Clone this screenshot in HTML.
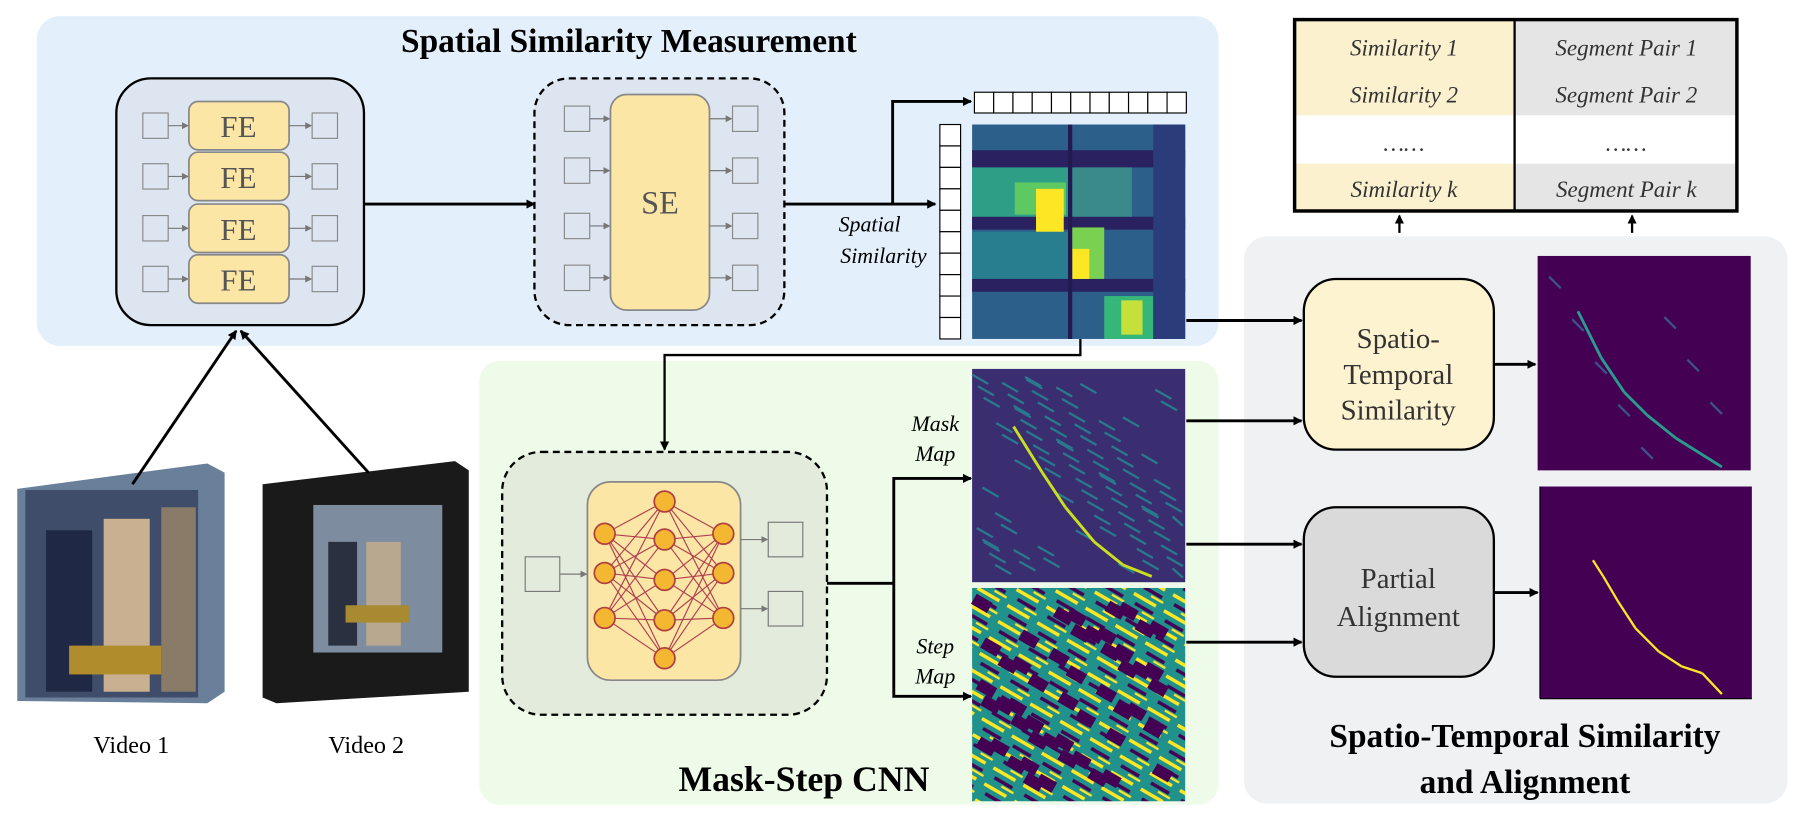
<!DOCTYPE html>
<html><head><meta charset="utf-8"><style>
html,body{margin:0;padding:0;background:#fff;}
svg{display:block;font-family:"Liberation Serif",serif;}
</style></head><body>
<svg id="root" width="1806" height="822" viewBox="0 0 1568 713" preserveAspectRatio="none">
<defs>
<marker id="ah" markerWidth="8" markerHeight="8" refX="7" refY="4" orient="auto" markerUnits="userSpaceOnUse"><path d="M0,0 L8,4 L0,8 z" fill="#000"/></marker>
<marker id="ahs" markerWidth="6" markerHeight="6" refX="5" refY="3" orient="auto" markerUnits="userSpaceOnUse"><path d="M0,0 L6,3 L0,6 z" fill="#777"/></marker>
<pattern id="stepPat" width="30" height="16" patternUnits="userSpaceOnUse" patternTransform="rotate(30)">
<rect width="30" height="16" fill="#21918c"/><rect x="0" y="0" width="22" height="3" fill="#fde725"/><rect x="5" y="7" width="18" height="3" fill="#440154"/><rect x="14" y="11" width="12" height="2" fill="#fde725"/>
</pattern>
</defs>

<rect x="32" y="14" width="1026" height="286" rx="20" fill="#e3f0fb"/>
<text x="546" y="45" text-anchor="middle" font-size="29" font-weight="bold">Spatial Similarity Measurement</text>

<rect x="416" y="313" width="642" height="385" rx="18" fill="#eefbe9"/>
<text x="698" y="686" text-anchor="middle" font-size="31" font-weight="bold">Mask-Step CNN</text>

<rect x="1080" y="205" width="472" height="492" rx="20" fill="#f0f1f3"/>
<text x="1324" y="648" text-anchor="middle" font-size="29" font-weight="bold">Spatio-Temporal Similarity</text>
<text x="1324" y="688" text-anchor="middle" font-size="29" font-weight="bold">and Alignment</text>

<g>
<rect x="101" y="68" width="215" height="214" rx="30" fill="#dde6f0" stroke="#000" stroke-width="2"/>
<g id="fe"></g>
</g>
<line x1="316" y1="177" x2="464" y2="177" stroke="#000" stroke-width="2.5" marker-end="url(#ah)"/>

<g>
<rect x="464" y="68" width="217" height="214" rx="30" fill="#dde6f0" stroke="#000" stroke-width="2" stroke-dasharray="6,4"/>
<rect x="530" y="82" width="86" height="187" rx="14" fill="#fbe6a6" stroke="#888" stroke-width="1.5"/>
<text x="573" y="185" text-anchor="middle" font-size="28" fill="#555">SE</text>
<g id="se"></g>
</g>
<polyline points="681,177 812,177" fill="none" stroke="#000" stroke-width="2.5" marker-end="url(#ah)"/>
<polyline points="775,177 775,88 843,88" fill="none" stroke="#000" stroke-width="2.5" marker-end="url(#ah)"/>
<text x="755" y="201" text-anchor="middle" font-size="19" font-style="italic">Spatial</text>
<text x="767" y="228" text-anchor="middle" font-size="19" font-style="italic">Similarity</text>

<g id="vecs"></g>
<g id="hm1"></g>

<polyline points="938,294 938,308 577,308 577,390" fill="none" stroke="#000" stroke-width="2" marker-end="url(#ah)"/>

<g>
<rect x="436" y="392" width="282" height="228" rx="34" fill="#e3ecdc" stroke="#000" stroke-width="2" stroke-dasharray="6,4"/>
<rect x="510" y="418" width="133" height="172" rx="20" fill="#fbe6a6" stroke="#888" stroke-width="1.5"/>
<g id="nn"></g>
<rect x="456" y="483" width="30" height="30" fill="none" stroke="#777"/>
<line x1="486" y1="498" x2="509" y2="498" stroke="#777" marker-end="url(#ahs)"/>
<rect x="667" y="453" width="30" height="30" fill="none" stroke="#777"/>
<rect x="667" y="513" width="30" height="30" fill="none" stroke="#777"/>
<line x1="643" y1="468" x2="666" y2="468" stroke="#777" marker-end="url(#ahs)"/>
<line x1="643" y1="528" x2="666" y2="528" stroke="#777" marker-end="url(#ahs)"/>
</g>
<polyline points="718,506 776,506" fill="none" stroke="#000" stroke-width="2.5"/>
<polyline points="776,506 776,415 843,415" fill="none" stroke="#000" stroke-width="2.5" marker-end="url(#ah)"/>
<polyline points="776,506 776,604 843,604" fill="none" stroke="#000" stroke-width="2.5" marker-end="url(#ah)"/>
<text x="812" y="374" text-anchor="middle" font-size="19" font-style="italic">Mask</text>
<text x="812" y="400" text-anchor="middle" font-size="19" font-style="italic">Map</text>
<text x="812" y="567" text-anchor="middle" font-size="19" font-style="italic">Step</text>
<text x="812" y="593" text-anchor="middle" font-size="19" font-style="italic">Map</text>

<g id="mask">
<rect x="844" y="320" width="185" height="185" fill="#3a2d70"/>
</g>
<g id="step">
<rect x="844" y="510" width="185" height="185" fill="url(#stepPat)"/>
</g>

<line x1="1030" y1="278" x2="1130" y2="278" stroke="#000" stroke-width="2.5" marker-end="url(#ah)"/>
<line x1="1030" y1="365" x2="1130" y2="365" stroke="#000" stroke-width="2.5" marker-end="url(#ah)"/>
<line x1="1030" y1="472" x2="1130" y2="472" stroke="#000" stroke-width="2.5" marker-end="url(#ah)"/>
<line x1="1030" y1="557" x2="1130" y2="557" stroke="#000" stroke-width="2.5" marker-end="url(#ah)"/>

<g>
<rect x="1132" y="242" width="165" height="148" rx="28" fill="#fdf3d0" stroke="#000" stroke-width="2"/>
<text x="1214" y="302" text-anchor="middle" font-size="25" fill="#333">Spatio-</text>
<text x="1214" y="333" text-anchor="middle" font-size="25" fill="#333">Temporal</text>
<text x="1214" y="364" text-anchor="middle" font-size="25" fill="#333">Similarity</text>
</g>
<g>
<rect x="1132" y="440" width="165" height="147" rx="28" fill="#dadada" stroke="#000" stroke-width="2"/>
<text x="1214" y="510" text-anchor="middle" font-size="25" fill="#333">Partial</text>
<text x="1214" y="543" text-anchor="middle" font-size="25" fill="#333">Alignment</text>
</g>
<line x1="1297" y1="316" x2="1333" y2="316" stroke="#000" stroke-width="2.5" marker-end="url(#ah)"/>
<line x1="1297" y1="514" x2="1335" y2="514" stroke="#000" stroke-width="2.5" marker-end="url(#ah)"/>

<g id="st">
<rect x="1335" y="222" width="185" height="186" fill="#440154"/>
</g>
<g id="pa">
<rect x="1337" y="422" width="184" height="184" fill="#440154"/>
<line x1="1337" y1="422" x2="1337" y2="606" stroke="#000"/>
<line x1="1337" y1="606" x2="1521" y2="606" stroke="#000"/>
</g>

<g>
<rect x="1124" y="17" width="191" height="83" fill="#fbf1cf"/>
<rect x="1124" y="142" width="191" height="41" fill="#fbf1cf"/>
<rect x="1315" y="17" width="193" height="83" fill="#e5e5e5"/>
<rect x="1315" y="142" width="193" height="41" fill="#e5e5e5"/>
<rect x="1124" y="17" width="384" height="166" fill="none" stroke="#000" stroke-width="3"/>
<line x1="1315" y1="17" x2="1315" y2="183" stroke="#000" stroke-width="2"/>
<g font-size="20" font-style="italic" text-anchor="middle" fill="#333">
<text x="1219" y="48">Similarity 1</text><text x="1219" y="89">Similarity 2</text>
<text x="1219" y="131">……</text><text x="1219" y="171">Similarity k</text>
<text x="1412" y="48">Segment Pair 1</text><text x="1412" y="89">Segment Pair 2</text>
<text x="1412" y="131">……</text><text x="1412" y="171">Segment Pair k</text>
</g>
</g>
<line x1="1215" y1="202" x2="1215" y2="187" stroke="#000" stroke-width="2" marker-end="url(#ah)"/>
<line x1="1417" y1="202" x2="1417" y2="187" stroke="#000" stroke-width="2" marker-end="url(#ah)"/>

<g>
<polygon points="15,424 180,402 195,410 195,600 180,610 15,608" fill="#6a7f9a"/>
<rect x="22" y="425" width="150" height="180" fill="#3f4c6a"/>
<rect x="40" y="460" width="40" height="140" fill="#1f2845"/>
<rect x="90" y="450" width="40" height="150" fill="#c8b090"/>
<rect x="60" y="560" width="80" height="25" fill="#b08c2c"/>
<rect x="140" y="440" width="30" height="160" fill="#8a7a68"/>
</g>
<text x="114" y="653" text-anchor="middle" font-size="21">Video 1</text>
<g>
<polygon points="228,420 395,400 407,408 407,600 240,610 228,605" fill="#1a1a1a"/>
<rect x="272" y="438" width="112" height="128" fill="#7d8c9e"/>
<rect x="285" y="470" width="25" height="90" fill="#2a3040"/>
<rect x="318" y="470" width="30" height="90" fill="#b8a890"/>
<rect x="300" y="525" width="55" height="15" fill="#a88a30"/>
</g>
<text x="318" y="653" text-anchor="middle" font-size="21">Video 2</text>
<line x1="115" y1="420" x2="205" y2="287" stroke="#000" stroke-width="2.5" marker-end="url(#ah)"/>
<line x1="320" y1="410" x2="209" y2="287" stroke="#000" stroke-width="2.5" marker-end="url(#ah)"/>
</svg>
<script>
const NS="http://www.w3.org/2000/svg";
const feRows=[88,132,177,221];
const seRows=[92,137,185,230];
const topCells=11, leftCells=10;
const hmBlocks=[
 [0,0,1,1,'#2c5f8a'],[0,0.12,1,0.2,'#2a2160'],[0,0.43,1,0.49,'#2a2160'],[0,0.72,1,0.78,'#2a2160'],
 [0,0.2,0.45,0.43,'#2f9e86'],[0.45,0.2,0.75,0.43,'#3a8a8a'],[0.2,0.27,0.44,0.42,'#5ec962'],
 [0.3,0.3,0.43,0.57,'#fde725'],[0.45,0.48,0.62,0.72,'#7ad151'],[0.47,0.58,0.55,0.72,'#fde725'],
 [0.62,0.8,0.85,1,'#35b779'],[0.7,0.82,0.8,0.98,'#c5e03a'],[0,0.5,0.45,0.72,'#287d8e'],
 [0.85,0,1,1,'#2a3c7a'],[0.45,0,0.47,1,'#231a52']
];
const maskDiag=[[880,370],[905,410],[925,440],[950,470],[975,490],[1000,500]];
const stLine=[[1370,270],[1390,310],[1410,340],[1430,360],[1455,380],[1495,405]];
const paLine=[[1383,486],[1392,500],[1405,522],[1420,545],[1440,565],[1460,578],[1478,584],[1495,602]];

function mk(tag,attrs,parent){const e=document.createElementNS(NS,tag);for(const k in attrs)e.setAttribute(k,attrs[k]);parent.appendChild(e);return e;}
const fe=document.getElementById('fe');
feRows.forEach(y=>{
  const r=mk('rect',{x:164,y:y,width:87,height:42,rx:8,fill:'#fbe6a6',stroke:'#888','stroke-width':1.5},fe);
  
  
  const t=mk('text',{x:207,y:y+31,'text-anchor':'middle','font-size':27,fill:'#555'},fe);t.textContent='FE';
  mk('rect',{x:124,y:y+10,width:22,height:22,fill:'none',stroke:'#888'},fe);
  mk('rect',{x:271,y:y+10,width:22,height:22,fill:'none',stroke:'#888'},fe);
  mk('line',{x1:146,y1:y+21,x2:163,y2:y+21,stroke:'#777','marker-end':'url(#ahs)'},fe);
  mk('line',{x1:251,y1:y+21,x2:270,y2:y+21,stroke:'#777','marker-end':'url(#ahs)'},fe);
});
const se=document.getElementById('se');
seRows.forEach(y=>{
  mk('rect',{x:490,y:y,width:22,height:22,fill:'none',stroke:'#888'},se);
  mk('rect',{x:636,y:y,width:22,height:22,fill:'none',stroke:'#888'},se);
  mk('line',{x1:512,y1:y+11,x2:529,y2:y+11,stroke:'#777','marker-end':'url(#ahs)'},se);
  mk('line',{x1:616,y1:y+11,x2:635,y2:y+11,stroke:'#777','marker-end':'url(#ahs)'},se);
});
const vecs=document.getElementById('vecs');
for(let i=0;i<topCells;i++){mk('rect',{x:846+i*184/topCells,y:80,width:184/topCells,height:18,fill:'#fff',stroke:'#000','stroke-width':1},vecs);}
for(let i=0;i<leftCells;i++){mk('rect',{x:816,y:108+i*186/leftCells,width:18,height:186/leftCells,fill:'#fff',stroke:'#000','stroke-width':1},vecs);}
const hm1=document.getElementById('hm1');
const hx=844,hy=108,hw=185,hh=186;
hmBlocks.forEach(b=>{const r=mk('rect',{x:hx+b[0]*hw,y:hy+b[1]*hh,width:(b[2]-b[0])*hw,height:(b[3]-b[1])*hh,fill:b[4]},hm1);
 
 });
const nn=document.getElementById('nn');
const cols=[[525,[463,497,536]],[577,[435,468,503,538,571]],[628,[463,497,536]]];
for(let c=0;c<2;c++)cols[c][1].forEach(a=>cols[c+1][1].forEach(b=>mk('line',{x1:cols[c][0],y1:a,x2:cols[c+1][0],y2:b,stroke:'#b04050','stroke-width':1},nn)));
cols.forEach(c=>c[1].forEach(y=>{const n=mk('circle',{cx:c[0],cy:y,r:9,fill:'#f4b731',stroke:'#b04040','stroke-width':1.5},nn);
 
 }));
const mask=document.getElementById('mask');
for(let i=0;i<14;i++)for(let j=0;j<6;j++){
  const x=844+((i*37+j*53)%175), y=325+((i*29+j*61)%170);
  mk('line',{x1:x,y1:y,x2:Math.min(1027,x+14),y2:Math.min(503,y+8),stroke:'#2a788e','stroke-width':2},mask);
}
for(let i=0;i<maskDiag.length-1;i++)mk('line',{x1:maskDiag[i][0],y1:maskDiag[i][1],x2:maskDiag[i+1][0],y2:maskDiag[i+1][1],stroke:'#c9e020','stroke-width':2.5},mask);
const step=document.getElementById('step');
for(let i=0;i<10;i++)for(let j=0;j<5;j++){
  const x=848+((i*41+j*67)%160), y=515+((i*31+j*47)%160);
  mk('rect',{x:x,y:y,width:16,height:10,fill:'#440154',transform:'rotate(30 '+x+' '+y+')'},step);
}
const st=document.getElementById('st');
for(let i=0;i<stLine.length-1;i++)mk('line',{x1:stLine[i][0],y1:stLine[i][1],x2:stLine[i+1][0],y2:stLine[i+1][1],stroke:'#2a9a8e','stroke-width':2.5},st);
for(let i=0;i<8;i++)mk('line',{x1:1345+i*20,y1:240+(i*37)%150,x2:1355+i*20,y2:250+(i*37)%150,stroke:'#3b528b','stroke-width':2},st);
const pa=document.getElementById('pa');
for(let i=0;i<paLine.length-1;i++)mk('line',{x1:paLine[i][0],y1:paLine[i][1],x2:paLine[i+1][0],y2:paLine[i+1][1],stroke:'#fde725','stroke-width':2},pa);
</script>
</body></html>
